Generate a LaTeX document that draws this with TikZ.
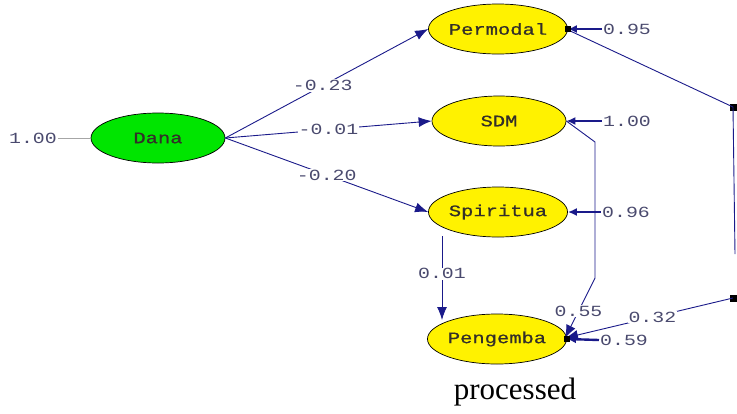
\documentclass[tikz,border=0pt]{standalone}
\usepackage{fontspec}
\usepackage{graphicx}
\usetikzlibrary{shapes.geometric,arrows.meta}
\newfontfamily\monof{Liberation Mono}
\newfontfamily\monob[FakeBold=0.7]{Liberation Mono}
\setmainfont{Liberation Serif}
\definecolor{navy}{HTML}{1A1A8A}
\definecolor{labc}{HTML}{4A4A6E}
\newcommand{\wide}[1]{\scalebox{1.28}[1]{#1}}
\tikzset{
  lv/.style={ellipse, draw=black, line width=0.7pt, fill=yellow, minimum width=134pt, minimum height=50pt, inner sep=0pt,
    font=\monob\fontsize{16}{16}\selectfont, text=black!85!olive},
  pth/.style={draw=navy, line width=0.9pt},
  arr/.style={pth, -{Latex[length=13pt,width=10pt]}},
  err/.style={draw=navy, line width=2.4pt, -{Latex[length=9pt,width=8pt]}},
  lab/.style={font=\monof\fontsize{15.5}{15.5}\selectfont, text=labc, inner sep=1pt},
  wlab/.style={lab, fill=white},
  sq/.style={draw=black, fill=black, minimum size=6pt, inner sep=0pt}
}
\begin{document}
\begin{tikzpicture}[x=1pt,y=-1pt]
\useasboundingbox (0,0) rectangle (737,413);
% latent variables
\node[lv, fill=green!90!black] (dana) at (158,138) {\wide{Dana}};
\node[lv] (perm) at (498,29) {\wide{Permodal}};
\node[lv] (sdm) at (499,121) {\wide{SDM}};
\node[lv] (spir) at (498,212) {\wide{Spiritua}};
\node[lv] (peng) at (497,339) {\wide{Pengemba}};
% Dana variance
\node[lab] (dv) at (33,138) {\wide{1.00}};
\draw[gray!70, line width=0.8pt] (dv.east) -- (dana.west);
% paths from Dana
\draw[arr] (dana.east) -- (perm.west) node[wlab, pos=0.48] {\wide{-0.23}};
\draw[arr] (dana.east) -- (sdm.west) node[wlab, pos=0.5] {\wide{-0.01}};
\draw[arr] (dana.east) -- (spir.west) node[wlab, pos=0.5] {\wide{-0.20}};
% Spiritua -> Pengemba
\coordinate (s1) at (442,236);
\coordinate (s2) at (442,320);
\draw[arr] (s1) -- (s2) node[wlab, pos=0.45] {\wide{0.01}};
% SDM -> Pengemba
\coordinate (d1) at (595,142);
\coordinate (d2) at (595,278);
\coordinate (pe) at (565,338);
\draw[pth] (sdm.east) -- (d1) -- (d2);
\draw[arr] (d2) -- (pe) node[wlab, pos=0.55] {\wide{0.55}};
% Permodal -> Pengemba
\coordinate (p0) at (566,29);
\node[sq] (q1) at (733,107) {};
\node[sq] (q2) at (733,298) {};
\coordinate (q3) at (735,254);
\draw[pth] (p0) -- (q1.center) -- (q3);
\draw[arr] (q2.center) -- (pe) node[wlab, pos=0.48] {\wide{0.32}};
% error terms
\node[lab] (e1) at (627,29) {\wide{0.95}};
\node[lab] (e2) at (627,121) {\wide{1.00}};
\node[lab] (e3) at (626,212) {\wide{0.96}};
\node[lab] (e4) at (624,340) {\wide{0.59}};
\draw[err] (e1.west) -- (perm.east);
\draw[err] (e2.west) -- (sdm.east);
\draw[err] (e3.west) -- (spir.east);
\draw[err] (e4.west) -- (peng.east);
\node[sq, minimum size=5pt] (c1) at (perm.east) {};
\node[sq, minimum size=5pt] (c2) at (peng.east) {};
% caption
\node[font=\fontsize{31}{31}\selectfont] (cap) at (515,392) {processed};
\end{tikzpicture}
\end{document}
